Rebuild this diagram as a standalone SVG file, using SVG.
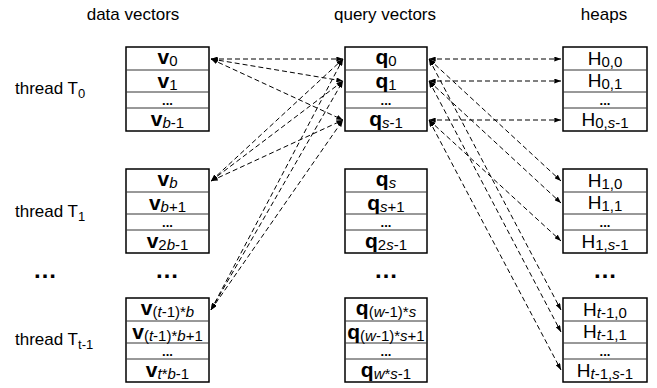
<svg xmlns="http://www.w3.org/2000/svg" width="657" height="388" viewBox="0 0 657 388">
<defs>
<marker id="ah" viewBox="0 0 8 6" refX="8" refY="3" markerWidth="7" markerHeight="5" markerUnits="userSpaceOnUse" orient="auto-start-reverse">
<path d="M0,0 L8,3 L0,6 Z" fill="#000"/>
</marker>
</defs>
<style>
text{font-family:"Liberation Sans",Arial,sans-serif;fill:#000}
.hdr{font-size:17px}
.thr{font-size:17px}
.ts{font-size:13px}
.box{fill:#fff;stroke:#000;stroke-width:1.5}
.row{stroke:#333;stroke-width:1}
.v{font-size:21px;font-weight:bold}
.sub{font-size:15px;font-weight:normal}
.h{font-size:19px}
.hs{font-size:15px}
.dots{font-size:13px;font-weight:bold}
.bigdots{font-size:24px;font-weight:bold}
.ln{fill:none;stroke:#000;stroke-width:1;stroke-dasharray:5,3;marker-start:url(#ah);marker-end:url(#ah)}
</style>
<rect width="657" height="388" fill="#fff"/>
<g id="headers">
<text class="hdr" x="133" y="20" text-anchor="middle">data vectors</text>
<text class="hdr" x="385" y="20" text-anchor="middle">query vectors</text>
<text class="hdr" x="604" y="20" text-anchor="middle">heaps</text>
</g>
<g id="threads">
<text class="thr" x="15" y="94">thread T<tspan class="ts" dy="4">0</tspan></text>
<text class="thr" x="15" y="217">thread T<tspan class="ts" dy="4">1</tspan></text>
<text class="thr" x="15" y="345">thread T<tspan class="ts" dy="4">t-1</tspan></text>
<text class="bigdots" x="45" y="278" text-anchor="middle">…</text>
<text class="bigdots" x="167" y="278" text-anchor="middle">…</text>
<text class="bigdots" x="386" y="278" text-anchor="middle">…</text>
<text class="bigdots" x="605" y="278" text-anchor="middle">…</text>
</g>
<g id="data0">
<rect class="box" x="126" y="47" width="83" height="84"/>
<line class="row" x1="126" y1="70" x2="209" y2="70"/><line class="row" x1="126" y1="92" x2="209" y2="92"/><line class="row" x1="126" y1="108" x2="209" y2="108"/>
<text class="v" x="167.5" y="64" text-anchor="middle">v<tspan class="sub" dy="1.5">0</tspan></text>
<text class="v" x="167.5" y="88" text-anchor="middle">v<tspan class="sub" dy="1.5">1</tspan></text>
<text class="dots" x="167.5" y="105" text-anchor="middle">...</text>
<text class="v" x="167.5" y="126" text-anchor="middle">v<tspan class="sub" dy="1.5"><tspan font-style="italic">b</tspan>-1</tspan></text>
</g>
<g id="data1">
<rect class="box" x="126" y="169" width="83" height="84"/>
<line class="row" x1="126" y1="192" x2="209" y2="192"/><line class="row" x1="126" y1="214" x2="209" y2="214"/><line class="row" x1="126" y1="230" x2="209" y2="230"/>
<text class="v" x="167.5" y="186" text-anchor="middle">v<tspan class="sub" dy="1.5" font-style="italic">b</tspan></text>
<text class="v" x="167.5" y="210" text-anchor="middle">v<tspan class="sub" dy="1.5"><tspan font-style="italic">b</tspan>+1</tspan></text>
<text class="dots" x="167.5" y="227" text-anchor="middle">...</text>
<text class="v" x="167.5" y="248" text-anchor="middle">v<tspan class="sub" dy="1.5">2<tspan font-style="italic">b</tspan>-1</tspan></text>
</g>
<g id="data2">
<rect class="box" x="126" y="298" width="83" height="84"/>
<line class="row" x1="126" y1="321" x2="209" y2="321"/><line class="row" x1="126" y1="343" x2="209" y2="343"/><line class="row" x1="126" y1="359" x2="209" y2="359"/>
<text class="v" x="167.5" y="315" text-anchor="middle">v<tspan class="sub" dy="1.5">(<tspan font-style="italic">t</tspan>-1)*<tspan font-style="italic">b</tspan></tspan></text>
<text class="v" x="167.5" y="339" text-anchor="middle">v<tspan class="sub" dy="1.5">(<tspan font-style="italic">t</tspan>-1)*<tspan font-style="italic">b</tspan>+1</tspan></text>
<text class="dots" x="167.5" y="356" text-anchor="middle">...</text>
<text class="v" x="167.5" y="377" text-anchor="middle">v<tspan class="sub" dy="1.5"><tspan font-style="italic">t</tspan>*<tspan font-style="italic">b</tspan>-1</tspan></text>
</g>
<g id="query0">
<rect class="box" x="345" y="47" width="82" height="84"/>
<line class="row" x1="345" y1="70" x2="427" y2="70"/><line class="row" x1="345" y1="92" x2="427" y2="92"/><line class="row" x1="345" y1="108" x2="427" y2="108"/>
<text class="v" x="386" y="64" text-anchor="middle">q<tspan class="sub" dy="1.5">0</tspan></text>
<text class="v" x="386" y="88" text-anchor="middle">q<tspan class="sub" dy="1.5">1</tspan></text>
<text class="dots" x="386" y="105" text-anchor="middle">...</text>
<text class="v" x="386" y="126" text-anchor="middle">q<tspan class="sub" dy="1.5"><tspan font-style="italic">s</tspan>-1</tspan></text>
</g>
<g id="query1">
<rect class="box" x="345" y="169" width="82" height="84"/>
<line class="row" x1="345" y1="192" x2="427" y2="192"/><line class="row" x1="345" y1="214" x2="427" y2="214"/><line class="row" x1="345" y1="230" x2="427" y2="230"/>
<text class="v" x="386" y="186" text-anchor="middle">q<tspan class="sub" dy="1.5" font-style="italic">s</tspan></text>
<text class="v" x="386" y="210" text-anchor="middle">q<tspan class="sub" dy="1.5"><tspan font-style="italic">s</tspan>+1</tspan></text>
<text class="dots" x="386" y="227" text-anchor="middle">...</text>
<text class="v" x="386" y="248" text-anchor="middle">q<tspan class="sub" dy="1.5">2<tspan font-style="italic">s</tspan>-1</tspan></text>
</g>
<g id="query2">
<rect class="box" x="345" y="298" width="82" height="84"/>
<line class="row" x1="345" y1="321" x2="427" y2="321"/><line class="row" x1="345" y1="343" x2="427" y2="343"/><line class="row" x1="345" y1="359" x2="427" y2="359"/>
<text class="v" x="386" y="315" text-anchor="middle">q<tspan class="sub" dy="1.5">(<tspan font-style="italic">w</tspan>-1)*<tspan font-style="italic">s</tspan></tspan></text>
<text class="v" x="386" y="339" text-anchor="middle">q<tspan class="sub" dy="1.5">(<tspan font-style="italic">w</tspan>-1)*<tspan font-style="italic">s</tspan>+1</tspan></text>
<text class="dots" x="386" y="356" text-anchor="middle">...</text>
<text class="v" x="386" y="377" text-anchor="middle">q<tspan class="sub" dy="1.5"><tspan font-style="italic">w</tspan>*<tspan font-style="italic">s</tspan>-1</tspan></text>
</g>
<g id="heap0">
<rect class="box" x="563" y="47" width="84" height="84"/>
<line class="row" x1="563" y1="70" x2="647" y2="70"/><line class="row" x1="563" y1="92" x2="647" y2="92"/><line class="row" x1="563" y1="108" x2="647" y2="108"/>
<text class="h" x="605" y="65" text-anchor="middle">H<tspan class="hs" dy="2">0,0</tspan></text>
<text class="h" x="605" y="87" text-anchor="middle">H<tspan class="hs" dy="2">0,1</tspan></text>
<text class="dots" x="605" y="105" text-anchor="middle">...</text>
<text class="h" x="605" y="126" text-anchor="middle">H<tspan class="hs" dy="2">0,<tspan font-style="italic">s</tspan>-1</tspan></text>
</g>
<g id="heap1">
<rect class="box" x="563" y="169" width="84" height="84"/>
<line class="row" x1="563" y1="192" x2="647" y2="192"/><line class="row" x1="563" y1="214" x2="647" y2="214"/><line class="row" x1="563" y1="230" x2="647" y2="230"/>
<text class="h" x="605" y="187" text-anchor="middle">H<tspan class="hs" dy="2">1,0</tspan></text>
<text class="h" x="605" y="209" text-anchor="middle">H<tspan class="hs" dy="2">1,1</tspan></text>
<text class="dots" x="605" y="227" text-anchor="middle">...</text>
<text class="h" x="605" y="248" text-anchor="middle">H<tspan class="hs" dy="2">1,<tspan font-style="italic">s</tspan>-1</tspan></text>
</g>
<g id="heap2">
<rect class="box" x="563" y="298" width="84" height="84"/>
<line class="row" x1="563" y1="321" x2="647" y2="321"/><line class="row" x1="563" y1="343" x2="647" y2="343"/><line class="row" x1="563" y1="359" x2="647" y2="359"/>
<text class="h" x="605" y="316" text-anchor="middle">H<tspan class="hs" dy="2"><tspan font-style="italic">t</tspan>-1,0</tspan></text>
<text class="h" x="605" y="338" text-anchor="middle">H<tspan class="hs" dy="2"><tspan font-style="italic">t</tspan>-1,1</tspan></text>
<text class="dots" x="605" y="356" text-anchor="middle">...</text>
<text class="h" x="605" y="377" text-anchor="middle">H<tspan class="hs" dy="2"><tspan font-style="italic">t</tspan>-1,<tspan font-style="italic">s</tspan>-1</tspan></text>
</g>
<g id="connectors">
<line class="ln" x1="211" y1="59" x2="343" y2="59"/>
<line class="ln" x1="211" y1="59" x2="343" y2="81"/>
<line class="ln" x1="211" y1="59" x2="343" y2="120"/>
<line class="ln" x1="211" y1="181" x2="343" y2="59"/>
<line class="ln" x1="211" y1="181" x2="343" y2="81"/>
<line class="ln" x1="211" y1="181" x2="343" y2="120"/>
<line class="ln" x1="211" y1="310" x2="343" y2="59"/>
<line class="ln" x1="211" y1="310" x2="343" y2="81"/>
<line class="ln" x1="211" y1="310" x2="343" y2="120"/>
<line class="ln" x1="429" y1="59" x2="561" y2="59"/>
<line class="ln" x1="429" y1="81" x2="561" y2="81"/>
<line class="ln" x1="429" y1="120" x2="561" y2="120"/>
<line class="ln" x1="429" y1="59" x2="561" y2="181"/>
<line class="ln" x1="429" y1="81" x2="561" y2="203"/>
<line class="ln" x1="429" y1="120" x2="561" y2="241"/>
<line class="ln" x1="429" y1="59" x2="561" y2="310"/>
<line class="ln" x1="429" y1="81" x2="561" y2="332"/>
<line class="ln" x1="429" y1="120" x2="561" y2="370"/>
</g>
</svg>
